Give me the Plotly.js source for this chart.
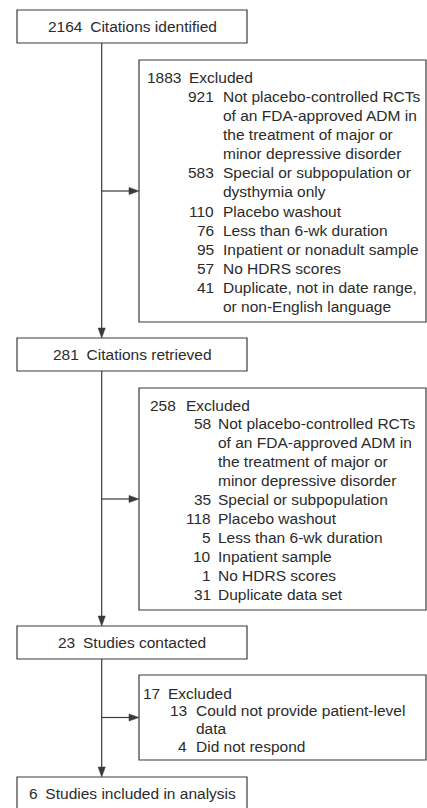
<!DOCTYPE html>
<html>
<head>
<meta charset="utf-8">
<script src="https://cdn.plot.ly/plotly-3.0.1.min.js"></script>
<style>html,body{margin:0;padding:0;background:#fff;}#chart{width:427px;height:808px;}</style>
</head>
<body>
<div id="chart"></div>
<script>
// ---- data ----
const stageCounts = [2164, 281, 23, 6];
const stageLabels = ['Citations identified', 'Citations retrieved', 'Studies contacted', 'Studies included in analysis'];
const excludedTotals = [1883, 258, 17];
const excl1Counts = [921, 583, 110, 76, 95, 57, 41];
const excl1Reasons = [
  'Not placebo-controlled RCTs\nof an FDA-approved ADM in\nthe treatment of major or\nminor depressive disorder',
  'Special or subpopulation or\ndysthymia only',
  'Placebo washout',
  'Less than 6-wk duration',
  'Inpatient or nonadult sample',
  'No HDRS scores',
  'Duplicate, not in date range,\nor non-English language'
];
const excl2Counts = [58, 35, 118, 5, 10, 1, 31];
const excl2Reasons = [
  'Not placebo-controlled RCTs\nof an FDA-approved ADM in\nthe treatment of major or\nminor depressive disorder',
  'Special or subpopulation',
  'Placebo washout',
  'Less than 6-wk duration',
  'Inpatient sample',
  'No HDRS scores',
  'Duplicate data set'
];
const excl3Counts = [13, 4];
const excl3Reasons = ['Could not provide patient-level\ndata', 'Did not respond'];

// ---- layout constants ----
const W = 427, H = 808;
const FONT = {family: 'Liberation Sans, Arial, sans-serif', size: 15.5, color: '#2b2b2b'};
const LINE = {color: '#3a3a3a', width: 1.2};
const stageBoxes = [[10, 43], [338, 371], [626, 659], [777, 810]];
const mainX = [17, 247];
const spineX = 101.7;
const exclX = [139, 426];
const exclBoxes = [
  {y0: 60, y1: 322, first: 77, step: 19.15, hNum: 182, hTxt: 188, sNum: 215, sTxt: 222, counts: excl1Counts, reasons: excl1Reasons},
  {y0: 388, y1: 610, first: 405, step: 18.9, hNum: 177, hTxt: 185, sNum: 212, sTxt: 217, counts: excl2Counts, reasons: excl2Reasons},
  {y0: 675, y1: 760, first: 693, step: 17.7, hNum: 161, hTxt: 167, sNum: 188, sTxt: 195, counts: excl3Counts, reasons: excl3Reasons}
];

const shapes = [];
const annotations = [];

function rect(x0, x1, y0, y1) {
  shapes.push({type: 'rect', xref: 'x', yref: 'y', x0, x1, y0, y1, line: LINE, fillcolor: 'rgba(0,0,0,0)'});
}
function seg(x0, y0, x1, y1) {
  shapes.push({type: 'line', xref: 'x', yref: 'y', x0, y0, x1, y1, line: LINE});
}
function head(x, y, dir) {
  const L = 10, h = 3.6;
  let p;
  if (dir === 'down') p = `M${x},${y} L${x - h},${y - L} L${x + h},${y - L} Z`;
  else p = `M${x},${y} L${x - L},${y - h} L${x - L},${y + h} Z`;
  shapes.push({type: 'path', xref: 'x', yref: 'y', path: p, line: {color: LINE.color, width: 0.5}, fillcolor: LINE.color});
}
function text(x, y, t, anchor) {
  annotations.push({xref: 'x', yref: 'y', x, y, text: t, showarrow: false, xanchor: anchor, yanchor: 'middle', font: FONT, borderpad: 0});
}

// stage boxes
stageBoxes.forEach((b, i) => {
  rect(mainX[0], mainX[1], b[0], b[1]);
  text((mainX[0] + mainX[1]) / 2, (b[0] + b[1]) / 2, stageCounts[i] + '\u2002' + stageLabels[i], 'center');
});
// spine with arrows
for (let i = 0; i < stageBoxes.length - 1; i++) {
  const yTop = stageBoxes[i][1], yBot = stageBoxes[i + 1][0];
  seg(spineX, yTop, spineX, yBot - 8);
  head(spineX, yBot, 'down');
}
// exclusion boxes
exclBoxes.forEach((e, i) => {
  rect(exclX[0], exclX[1], e.y0, e.y1);
  const yc = (e.y0 + e.y1) / 2;
  seg(spineX, yc, exclX[0] - 8, yc);
  head(exclX[0], yc, 'right');
  let y = e.first;
  text(e.hNum, y, String(excludedTotals[i]), 'right');
  text(e.hTxt, y, 'Excluded', 'left');
  e.counts.forEach((c, k) => {
    y += e.step;
    text(e.sNum, y, String(c), 'right');
    const lines = e.reasons[k].split('\n');
    lines.forEach((ln, j) => {
      if (j > 0) y += e.step;
      text(e.sTxt, y, ln, 'left');
    });
  });
});

const layout = {
  width: W, height: H,
  margin: {l: 0, r: 0, t: 0, b: 0, pad: 0},
  paper_bgcolor: '#fff', plot_bgcolor: '#fff',
  showlegend: false,
  xaxis: {range: [0, W], visible: false, fixedrange: true},
  yaxis: {range: [H, 0], visible: false, fixedrange: true},
  shapes, annotations
};
Plotly.newPlot('chart', [], layout, {staticPlot: true, displayModeBar: false});
</script>
</body>
</html>
